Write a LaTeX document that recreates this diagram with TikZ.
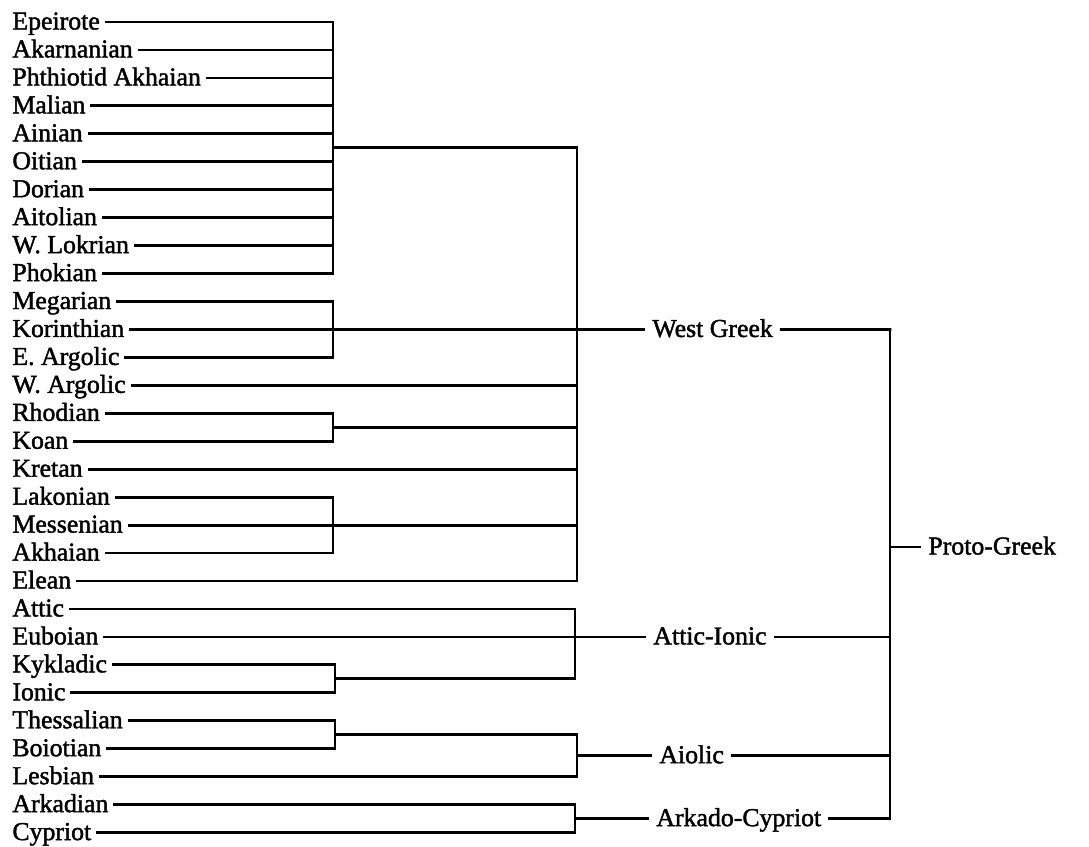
\documentclass[tikz,border=0pt]{standalone}
\usepackage{fontspec}
\newfontfamily\lblfont{Liberation Serif}[BoldFont={Liberation Serif}, BoldFeatures={FakeBold=1.6}]
\begin{document}
\begin{tikzpicture}[x=0.5pt,y=-0.5pt,
  lbl/.style={anchor=base west, inner xsep=3pt, inner ysep=0pt, font=\lblfont\bfseries\fontsize{12.9}{14}\selectfont},
  grp/.style={lbl, inner xsep=4pt},
  ln/.style={line width=1.4pt, line cap=rect}]
\useasboundingbox (0,0) rectangle (1089,847);
\foreach \nm/\tx [count=\i from 0] in {Epeirote/333, Akarnanian/333, Phthiotid Akhaian/333, Malian/333, Ainian/333, Oitian/333, Dorian/333, Aitolian/333, W. Lokrian/333, Phokian/333, Megarian/333, Korinthian/333, E. Argolic/333, W. Argolic/577, Rhodian/333, Koan/333, Kretan/577, Lakonian/333, Messenian/333, Akhaian/333, Elean/577, Attic/575, Euboian/575, Kykladic/335, Ionic/335, Thessalian/335, Boiotian/335, Lesbian/577, Arkadian/575, Cypriot/575}{
  \pgfmathsetmacro\yy{22+27.95*\i}
  \coordinate (r\i) at (0,\yy);
  \coordinate (t\i) at (\tx,\yy);
  \node[lbl] (leaf\i) at (6,\yy+7.5) {\nm};
  \draw[ln] (leaf\i.east |- r\i) -- (t\i);
}
% group brackets at first level
\draw[ln] (t0) -- (t9);
\draw[ln] (t10) -- (t12);
\draw[ln] (t14) -- (t15);
\draw[ln] (t17) -- (t19);
\draw[ln] (t23) -- (t24);
\draw[ln] (t25) -- (t26);
\coordinate (jA) at (333,147.8);
\coordinate (jC) at (333,427.3);
\coordinate (jE) at (335,678.8);
\coordinate (jF) at (335,734.7);
\coordinate (wgTop) at (577,147.8);
\coordinate (aiBot) at (575,678.8);
\coordinate (aoTop) at (577,734.7);
\coordinate (aoMid) at (577,755.7);
\coordinate (acMid) at (575,818.6);
% second level
\draw[ln] (jA) -- (wgTop);
\draw[ln] (jC) -- (jC -| wgTop);
\draw[ln] (t18) -- (t18 -| wgTop);
\draw[ln] (wgTop) -- (t20);
\draw[ln] (jE) -- (aiBot);
\draw[ln] (t21) -- (aiBot);
\draw[ln] (jF) -- (aoTop);
\draw[ln] (aoTop) -- (t27);
\draw[ln] (t28) -- (t29);
% group labels
\node[grp] (wg) at (644,329.45+7.5) {West Greek};
\node[grp] (ai) at (645,636.9+7.5) {Attic-Ionic};
\node[grp] (ao) at (651,755.7+7.5) {Aiolic};
\node[grp] (ac) at (648,818.6+7.5) {Arkado-Cypriot};
\node[grp] (pg) at (920,547+7.5) {Proto-Greek};
\draw[ln] (t11) -- (wg.west |- t11);
\draw[ln] (t22) -- (ai.west |- t22);
\draw[ln] (aoMid) -- (ao.west |- aoMid);
\draw[ln] (acMid) -- (ac.west |- acMid);
% top level
\coordinate (pTop) at (890,329.45);
\coordinate (pBot) at (890,818.6);
\coordinate (pMid) at (890,547);
\draw[ln] (wg.east |- t11) -- (pTop);
\draw[ln] (ai.east |- t22) -- (t22 -| pTop);
\draw[ln] (ao.east |- aoMid) -- (aoMid -| pTop);
\draw[ln] (ac.east |- acMid) -- (pBot);
\draw[ln] (pTop) -- (pBot);
\draw[ln] (pMid) -- (pg.west |- pMid);
\end{tikzpicture}
\end{document}
